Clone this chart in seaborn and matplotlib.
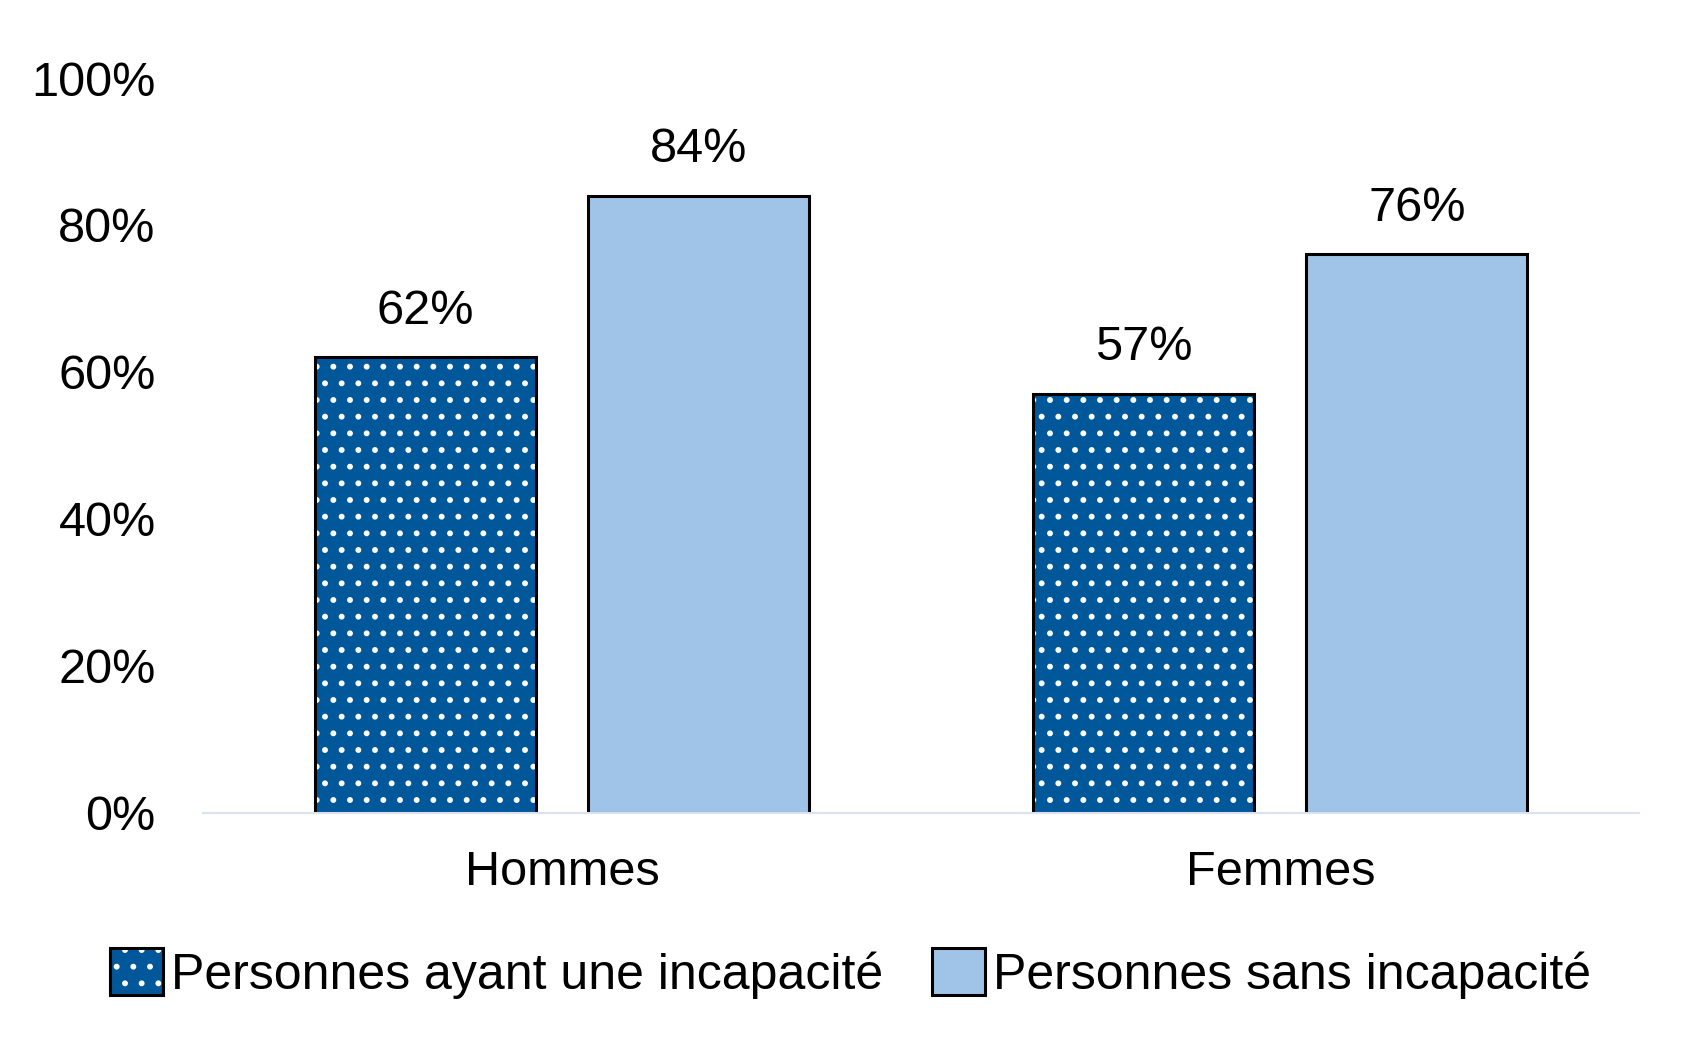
import pandas as pd
import matplotlib
matplotlib.use("Agg")
import matplotlib.pyplot as plt
import matplotlib.colors as mcolors
import seaborn as sns

groups = ["Hommes", "Femmes"]
statuses = ["Personnes ayant une incapacité", "Personnes sans incapacité"]
avec_incapacite = [0.62, 0.57]
sans_incapacite = [0.84, 0.76]
yticks = [0, 0.2, 0.4, 0.6, 0.8, 1.0]

df = pd.DataFrame({
    "groupe": groups * 2,
    "statut": [statuses[0]] * 2 + [statuses[1]] * 2,
    "valeur": avec_incapacite + sans_incapacite,
})

sns.set_theme(style="white")
plt.rcParams["font.family"] = ["Liberation Sans", "DejaVu Sans"]
plt.rcParams["text.color"] = "black"
plt.rcParams["hatch.linewidth"] = 1.8

fig = plt.figure(figsize=(16.91, 10.40), dpi=100)
ax = fig.add_axes([0.120, 0.2183, 0.8495, 0.7067])

palette = {statuses[0]: "#00589B", statuses[1]: "#9FC4E7"}
sns.barplot(data=df, x="groupe", y="valeur", hue="statut", order=groups,
            hue_order=statuses, palette=palette, width=0.76, gap=0.19,
            edgecolor="black", linewidth=2.2, saturation=1, legend=False, ax=ax)

# white dots on the dark bars
white = mcolors.to_rgba("white")
for p in ax.containers[0]:
    p.set_hatch(".")
    p._hatch_color = white

for cont in ax.containers:
    ax.bar_label(cont, labels=[f"{v * 100:.0f}%" for v in cont.datavalues],
                 padding=17, fontsize=35, color="black")

ax.set_xlim(-0.5, 1.5)
ax.set_ylim(0, 1.0)
ax.set_yticks(yticks)
ax.set_yticklabels([f"{t * 100:.0f}%" for t in yticks])
ax.tick_params(axis="y", length=0, pad=34, labelsize=35, labelcolor="black")
ax.tick_params(axis="x", length=0, pad=27, labelsize=35, labelcolor="black")
ax.set_xlabel("")
ax.set_ylabel("")
for side in ["top", "right", "left"]:
    ax.spines[side].set_visible(False)
ax.spines["bottom"].set_color("#D9E1F2")
ax.spines["bottom"].set_linewidth(1.5)

handles = [ax.containers[0][0], ax.containers[1][0]]
fig.legend(handles, statuses, loc="center", bbox_to_anchor=(0.503, 0.064),
           ncol=2, frameon=False, fontsize=36, handlelength=1.06,
           handleheight=1.06, handletextpad=0.16, columnspacing=0.98,
           borderpad=0, labelcolor="black")

fig.savefig("out.png", dpi=100)
